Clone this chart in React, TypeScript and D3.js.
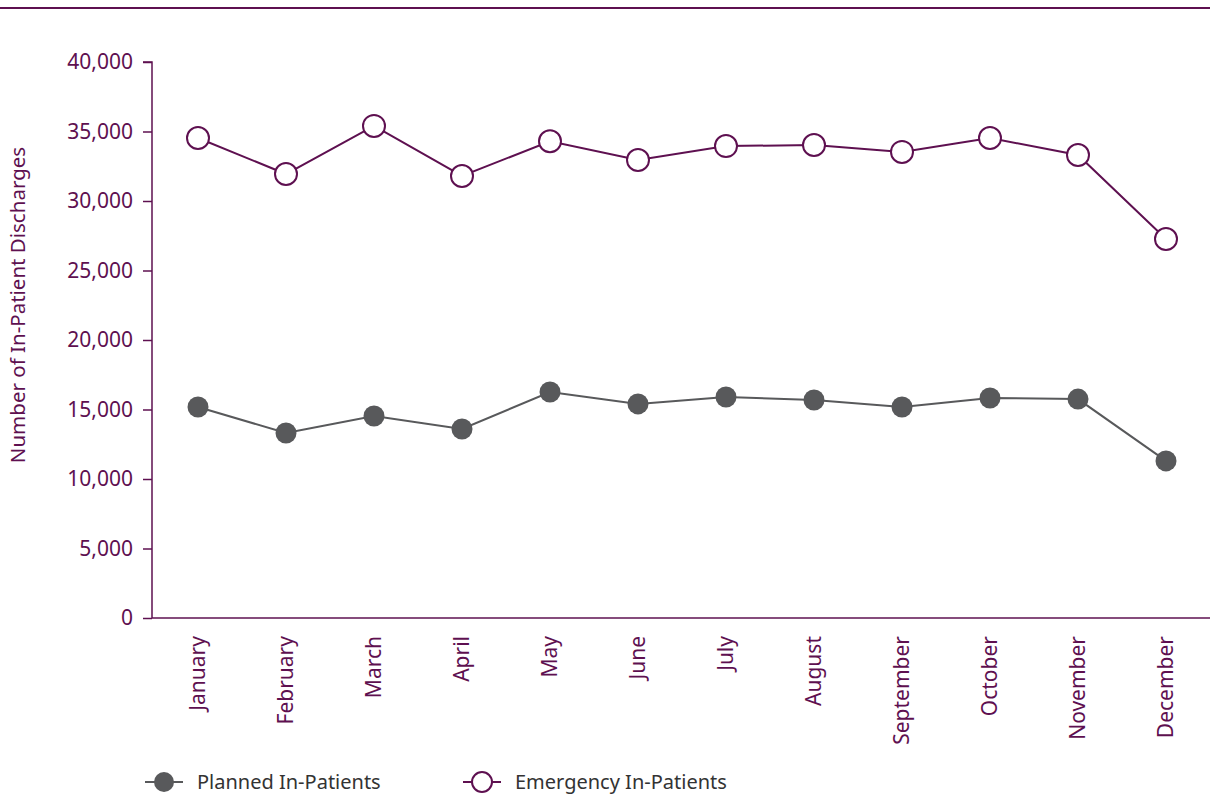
import { useEffect, useRef } from "react"
import * as d3 from "d3"

const months = [
  "January", "February", "March", "April", "May", "June",
  "July", "August", "September", "October", "November", "December",
]
const planned = [15180, 13310, 14530, 13600, 16260, 15400, 15900, 15680, 15180, 15830, 15750, 11300]
const emergency = [34530, 31940, 35400, 31800, 34300, 32950, 33950, 34030, 33530, 34530, 33310, 27270]
const yTicks = [0, 5000, 10000, 15000, 20000, 25000, 30000, 35000, 40000]

const PURPLE = "#5e1050"
const GREY = "#58595b"
const FONT = "'Noto Sans', sans-serif"

export default function App() {
  const svgRef = useRef<SVGSVGElement>(null)

  useEffect(() => {
    if (!svgRef.current) return
    const svg = d3.select(svgRef.current)
    svg.selectAll("*").remove()

    const width = 1210
    const left = 152
    const top = 62
    const bottom = 618

    // top rule
    svg.append("line")
      .attr("x1", 0).attr("x2", width).attr("y1", 8).attr("y2", 8)
      .attr("stroke", PURPLE).attr("stroke-width", 2)

    const x = d3.scaleBand<string>().domain(months).range([154, 1210])
    const y = d3.scaleLinear().domain([0, 40000]).range([bottom, top])
    const cx = (m: string) => (x(m) || 0) + x.bandwidth() / 2

    // Y axis
    const yAxis = svg.append("g")
      .attr("transform", `translate(${left},0)`)
      .call(d3.axisLeft(y).tickValues(yTicks).tickSize(9).tickPadding(10).tickFormat(d3.format(",")))
    yAxis.select(".domain").attr("stroke", PURPLE).attr("stroke-width", 1.5)
      .attr("d", `M-9,${top}H0V${bottom}`)
    yAxis.selectAll(".tick line").attr("stroke", PURPLE).attr("stroke-width", 1.5)
    yAxis.selectAll(".tick text")
      .style("fill", PURPLE).style("font-size", "21px").style("font-family", FONT)

    // X axis
    const xAxis = svg.append("g")
      .attr("transform", `translate(0,${bottom})`)
      .call(d3.axisBottom(x).tickSize(0).tickPadding(0))
    xAxis.select(".domain").attr("stroke", PURPLE).attr("stroke-width", 1.5)
      .attr("d", `M${left},0H${width}`)
    xAxis.selectAll(".tick text")
      .attr("transform", "rotate(-90)")
      .attr("x", -18).attr("y", 0).attr("dy", "0.35em")
      .style("text-anchor", "end")
      .style("fill", PURPLE).style("font-size", "21px").style("font-family", FONT)

    // Y axis label
    svg.append("text")
      .attr("transform", "rotate(-90)")
      .attr("x", -305).attr("y", 25)
      .style("text-anchor", "middle")
      .style("fill", PURPLE).style("font-size", "20.5px").style("font-family", FONT)
      .text("Number of In-Patient Discharges")

    const line = d3.line<number>()
      .x((_, i) => cx(months[i]))
      .y((d) => y(d))

    // Planned series
    svg.append("path").datum(planned)
      .attr("d", line).attr("fill", "none").attr("stroke", GREY).attr("stroke-width", 2)
    svg.selectAll(".pdot").data(planned).enter().append("circle")
      .attr("cx", (_, i) => cx(months[i])).attr("cy", (d) => y(d))
      .attr("r", 10.5).attr("fill", GREY)

    // Emergency series
    svg.append("path").datum(emergency)
      .attr("d", line).attr("fill", "none").attr("stroke", PURPLE).attr("stroke-width", 2)
    svg.selectAll(".edot").data(emergency).enter().append("circle")
      .attr("cx", (_, i) => cx(months[i])).attr("cy", (d) => y(d))
      .attr("r", 11).attr("fill", "white").attr("stroke", PURPLE).attr("stroke-width", 2)

    // Legend
    const legend = [
      { label: "Planned In-Patients", x: 145, color: GREY, filled: true },
      { label: "Emergency In-Patients", x: 463, color: PURPLE, filled: false },
    ]
    const ly = 782
    legend.forEach((l) => {
      const g = svg.append("g").attr("transform", `translate(${l.x},${ly})`)
      g.append("line").attr("x1", 0).attr("x2", 38).attr("stroke", l.color).attr("stroke-width", 2)
      g.append("circle").attr("cx", 19).attr("r", 10)
        .attr("fill", l.filled ? l.color : "white")
        .attr("stroke", l.color).attr("stroke-width", l.filled ? 0 : 2)
      g.append("text").attr("x", 52).attr("dy", "0.35em")
        .style("fill", "#333").style("font-size", "20px").style("font-family", FONT)
        .text(l.label)
    })
  }, [])

  return (
    <svg
      ref={svgRef}
      width={1210}
      height={796}
      style={{ position: "absolute", left: 0, top: 0, background: "white" }}
    />
  )
}
